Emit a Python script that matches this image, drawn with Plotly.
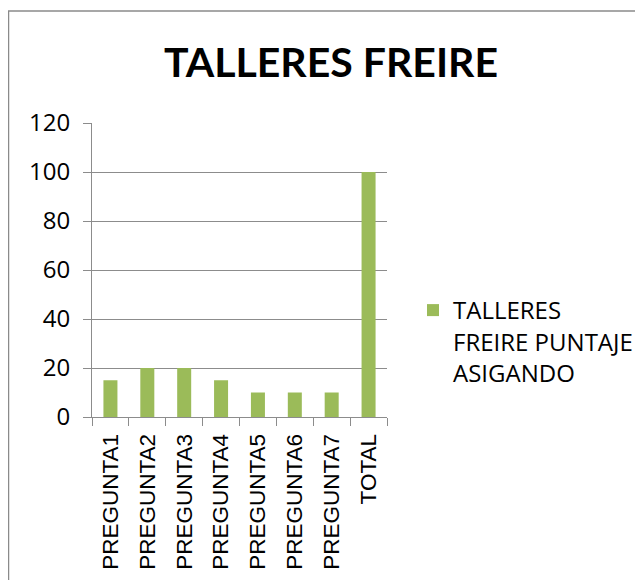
import plotly.graph_objects as go

categories = ["PREGUNTA1", "PREGUNTA2", "PREGUNTA3", "PREGUNTA4",
              "PREGUNTA5", "PREGUNTA6", "PREGUNTA7", "TOTAL"]
puntaje = [15, 20, 20, 15, 10, 10, 10, 100]
series_name = "TALLERES<br>FREIRE PUNTAJE<br>ASIGANDO"
y_ticks = [0, 20, 40, 60, 80, 100, 120]

W, H = 643, 580
OFF = 8  # page body margin pushes the figure right/down by this much
L, R, T, B = 92 - OFF, 387 - OFF, 123 - OFF, 417 - OFF  # plot area, figure px
GRID = "#8c8c8c"
GREEN = "#9bbb59"

fig = go.Figure(go.Bar(
    x=categories, y=puntaje, name=series_name,
    marker=dict(color=GREEN, line=dict(width=0)),
    showlegend=True,
))

fig.update_layout(
    template="none",
    width=W, height=H,
    margin=dict(l=L, r=W - R, t=T, b=H - B, pad=0),
    paper_bgcolor="white", plot_bgcolor="white",
    bargap=0.62,
    title=dict(
        text="<b>TALLERES FREIRE</b>",
        font=dict(family="Lato, sans-serif", size=41, color="black"),
        x=(331 - OFF) / W, xanchor="center", xref="container",
        y=1 - (63 - OFF) / H, yanchor="middle", yref="container",
    ),
    legend=dict(
        x=(453 - OFF - 40 - L) / (R - L), xanchor="left",
        y=(B - (288 - OFF)) / (B - T), yanchor="top",
        font=dict(family="Open Sans, sans-serif", size=24, color="black"),
        bgcolor="rgba(0,0,0,0)", borderwidth=0,
        itemwidth=30, valign="top",
    ),
    font=dict(family="Open Sans, sans-serif", color="black"),
)

fig.update_yaxes(
    range=[0, 120], tickvals=y_ticks,
    showgrid=True, gridcolor=GRID, gridwidth=1,
    showline=True, linecolor=GRID, linewidth=1,
    ticks="outside", ticklen=8, tickcolor=GRID,
    tickfont=dict(family="Open Sans, sans-serif", size=24, color="black"),
    ticklabelstandoff=8,
    zeroline=False, automargin=False,
)
fig.update_xaxes(
    type="category",
    showline=True, linecolor=GRID, linewidth=1,
    ticks="outside", ticklen=8, tickcolor=GRID, tickson="boundaries",
    tickangle=-90,
    tickfont=dict(family="Liberation Sans, Arial, sans-serif", size=22.5, color="black"),
    ticklabelstandoff=7,
    showgrid=False, automargin=False,
)

# chart area border (runs off the right and bottom of the picture)
fig.add_shape(
    type="rect", xref="paper", yref="paper",
    x0=(8.5 - OFF - L) / (R - L), x1=2.0,
    y0=-1.0, y1=(B - (11 - OFF)) / (B - T),
    line=dict(color="#8a8a8a", width=1.5), fillcolor="rgba(0,0,0,0)",
    layer="below",
)

fig.write_html("out.html")
